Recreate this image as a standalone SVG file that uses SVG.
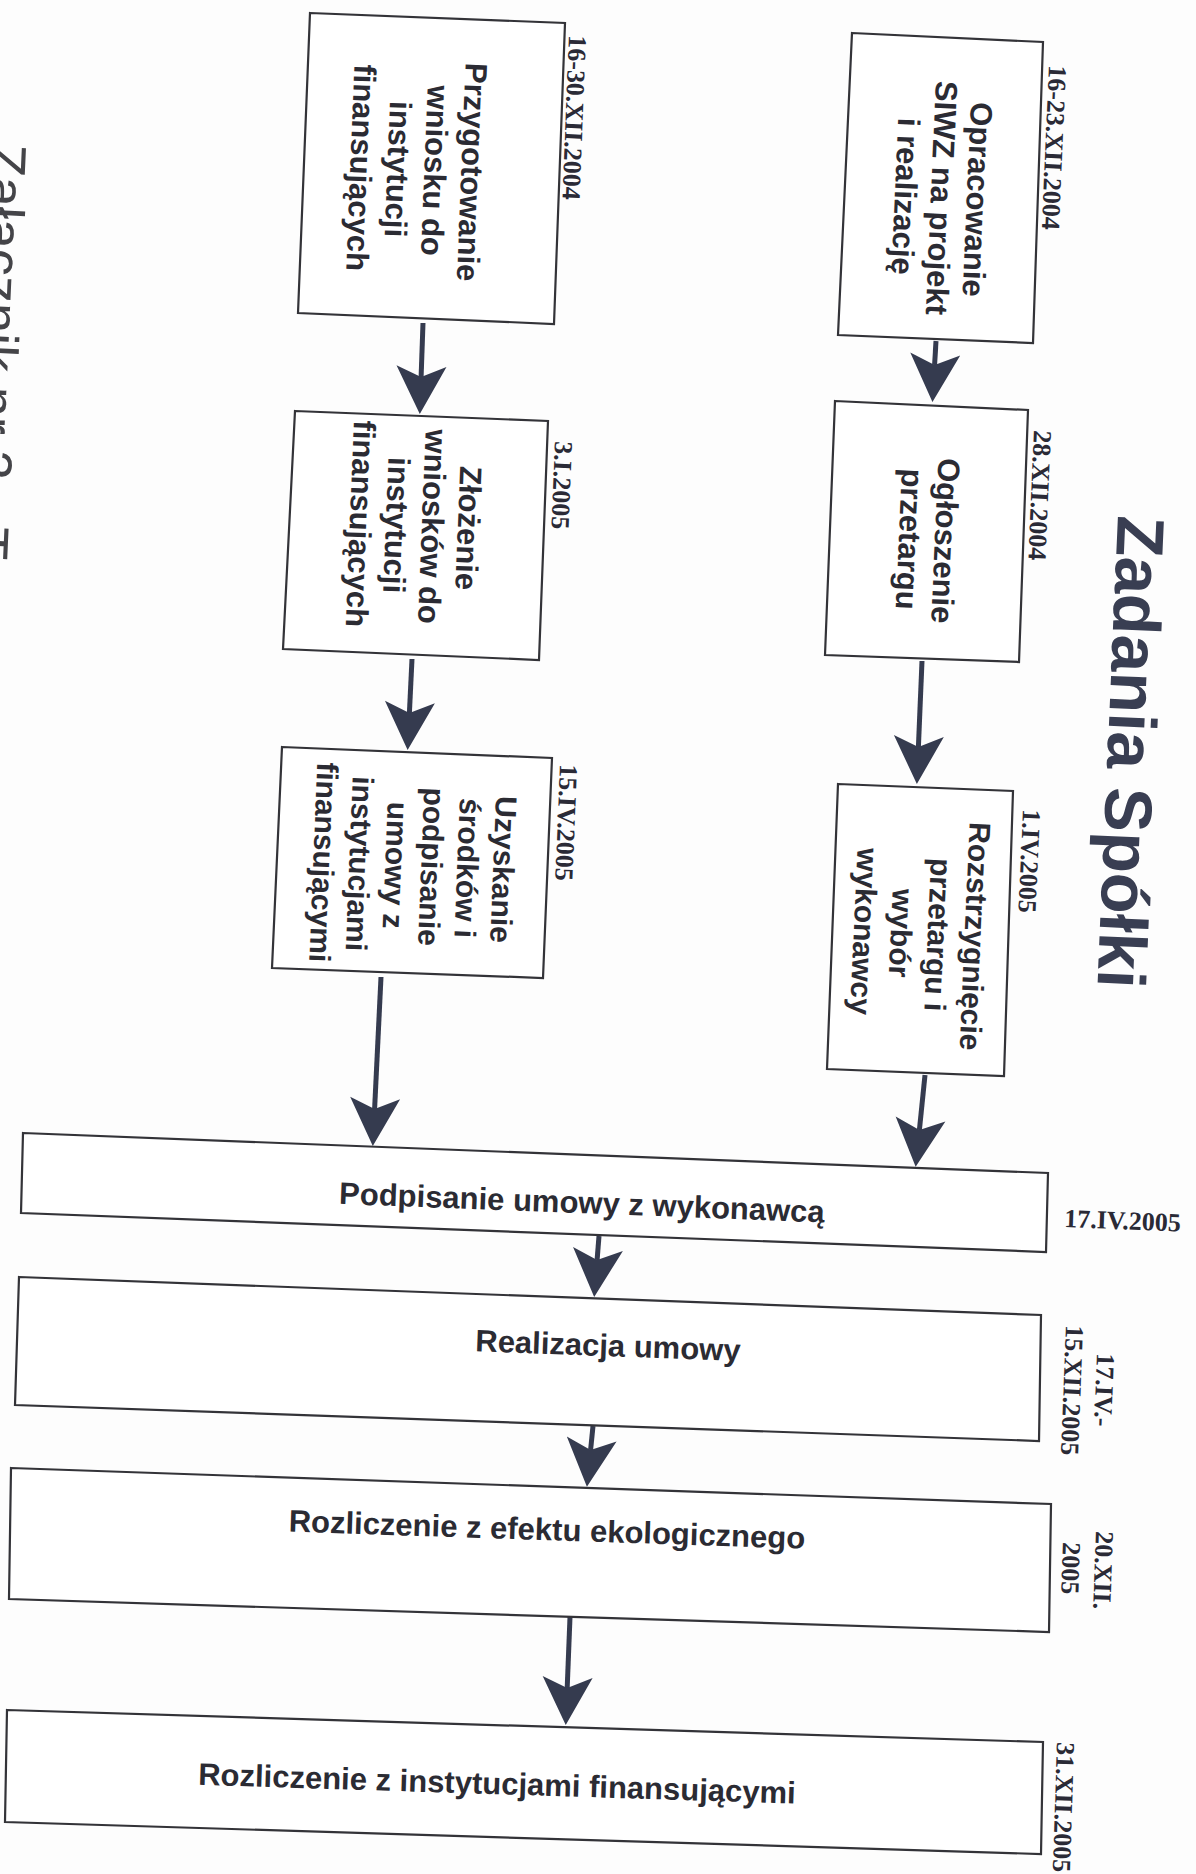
<svg xmlns="http://www.w3.org/2000/svg" width="1196" height="1874" viewBox="0 0 1196 1874">
<style>
.box{fill:#ffffff;stroke:#333338;stroke-width:2.2}
.bt{font-family:"Liberation Sans",Arial,sans-serif;font-weight:bold;font-size:31px;fill:#2b2b33}
.dt{font-family:"Liberation Serif","Times New Roman",serif;font-weight:bold;font-size:26px;fill:#2a2a36}
.title{font-family:"Liberation Sans",Arial,sans-serif;font-weight:bold;font-size:67px;fill:#393e52}
.att{font-family:"Liberation Sans",Arial,sans-serif;font-size:54px;fill:#444448}
.conn line{stroke:#353b4f;stroke-width:5;fill:none}
</style>
<defs>
<marker id="ah" viewBox="-49 -26 50 52" refX="-37" refY="0" markerWidth="50" markerHeight="52" markerUnits="userSpaceOnUse" orient="auto">
<path d="M0,0 L-48,-25 L-37,0 L-48,25 Z" fill="#353b4f"/>
</marker>
</defs>
<rect x="0" y="0" width="1196" height="1874" fill="#fdfdfd"/>

<g id="attachment-label">
<text class="att" transform="translate(-11,143) rotate(92.6)">Załącznik nr 2 - T</text>
</g>

<g id="title">
<text class="title" transform="translate(1118,515) rotate(92.5)">Zadania Spółki</text>
</g>

<g id="connectors" class="conn">
<line x1="936" y1="341" x2="934.6" y2="365" marker-end="url(#ah)"/>
<line x1="922" y1="661" x2="918.4" y2="747" marker-end="url(#ah)"/>
<line x1="925" y1="1075" x2="919.4" y2="1130" marker-end="url(#ah)"/>
<line x1="423" y1="323" x2="421.1" y2="377" marker-end="url(#ah)"/>
<line x1="412" y1="659" x2="409.4" y2="713" marker-end="url(#ah)"/>
<line x1="381" y1="977" x2="374.6" y2="1109" marker-end="url(#ah)"/>
<line x1="599" y1="1236" x2="597.1" y2="1260" marker-end="url(#ah)"/>
<line x1="593" y1="1426" x2="590.6" y2="1450" marker-end="url(#ah)"/>
<line x1="570" y1="1617" x2="567.2" y2="1688" marker-end="url(#ah)"/>
</g>

<g id="node-opracowanie">
<polygon class="box" points="852,33 1043,42 1033,343 838,335"/>
<text class="bt" text-anchor="middle" transform="translate(942,198) rotate(92.5)"><tspan x="0" y="-24.8">Opracowanie</tspan><tspan x="0" dy="36">SIWZ na projekt</tspan><tspan x="0" dy="36">i realizację</tspan></text>
<text class="dt" transform="translate(1049,65) rotate(92.5)">16-23.XII.2004</text>
</g>

<g id="node-ogloszenie">
<polygon class="box" points="835,401 1028,410 1019,662 825,655"/>
<text class="bt" text-anchor="middle" transform="translate(928,540) rotate(92.5)"><tspan x="0" y="-6.8">Ogłoszenie</tspan><tspan x="0" dy="36">przetargu</tspan></text>
<text class="dt" transform="translate(1034,430) rotate(92.5)">28.XII.2004</text>
</g>

<g id="node-rozstrzygniecie">
<polygon class="box" points="838,784 1013,791 1004,1076 827,1069"/>
<text class="bt" style="font-size:30px" text-anchor="middle" transform="translate(920,934) rotate(92.5)"><tspan x="0" y="-44.7">Rozstrzygnięcie</tspan><tspan x="0" dy="37">przetargu i</tspan><tspan x="0" dy="37">wybór</tspan><tspan x="0" dy="37">wykonawcy</tspan></text>
<text class="dt" transform="translate(1023,809) rotate(92.5)">1.IV.2005</text>
</g>

<g id="node-przygotowanie">
<polygon class="box" points="310,13 565,23 554,324 298,313"/>
<text class="bt" text-anchor="middle" transform="translate(417,170) rotate(92.3)"><tspan x="0" y="-44.3">Przygotowanie</tspan><tspan x="0" dy="37">wniosku do</tspan><tspan x="0" dy="37">instytucji</tspan><tspan x="0" dy="37">finansujących</tspan></text>
<text class="dt" transform="translate(569,35) rotate(92.3)">16-30.XII.2004</text>
</g>

<g id="node-zlozenie">
<polygon class="box" points="295,411 548,421 539,660 283,649"/>
<text class="bt" text-anchor="middle" transform="translate(415,526) rotate(92.3)"><tspan x="0" y="-42.8">Złożenie</tspan><tspan x="0" dy="36">wniosków do</tspan><tspan x="0" dy="36">instytucji</tspan><tspan x="0" dy="36">finansujących</tspan></text>
<text class="dt" transform="translate(555,441) rotate(92.3)">3.I.2005</text>
</g>

<g id="node-uzyskanie">
<polygon class="box" points="282,747 552,758 543,978 272,968"/>
<text class="bt" style="font-size:30px" text-anchor="middle" transform="translate(414,866) rotate(92.3)"><tspan x="0" y="-79.2">Uzyskanie</tspan><tspan x="0" dy="36">środków i</tspan><tspan x="0" dy="36">podpisanie</tspan><tspan x="0" dy="36">umowy z</tspan><tspan x="0" dy="36">instytucjami</tspan><tspan x="0" dy="36">finansującymi</tspan></text>
<text class="dt" transform="translate(560,764) rotate(92.3)">15.IV.2005</text>
</g>

<g id="node-podpisanie">
<polygon class="box" points="23,1133 1048,1173 1046,1252 21,1213"/>
<text class="bt" text-anchor="middle" transform="translate(582,1202) rotate(2.2)" dy="0.36em">Podpisanie umowy z wykonawcą</text>
<text class="dt" transform="translate(1064,1227) rotate(2.2)">17.IV.2005</text>
</g>

<g id="node-realizacja">
<polygon class="box" points="19,1277 1041,1315 1039,1441 15,1405"/>
<text class="bt" text-anchor="middle" transform="translate(608,1345) rotate(2.1)" dy="0.36em">Realizacja umowy</text>
<text class="dt" transform="translate(1097,1353) rotate(92.2)">17.IV.-</text>
<text class="dt" transform="translate(1066,1325) rotate(92.2)">15.XII.2005</text>
</g>

<g id="node-rozliczenie-efekt">
<polygon class="box" points="11,1468 1051,1504 1049,1632 9,1599"/>
<text class="bt" text-anchor="middle" transform="translate(547,1529) rotate(1.9)" dy="0.36em">Rozliczenie z efektu ekologicznego</text>
<text class="dt" transform="translate(1096,1531) rotate(92)">20.XII.</text>
<text class="dt" transform="translate(1063,1542) rotate(92)">2005</text>
</g>

<g id="node-rozliczenie-instytucje">
<polygon class="box" points="7,1710 1043,1742 1041,1854 5,1822"/>
<text class="bt" text-anchor="middle" transform="translate(497,1783) rotate(1.8)" dy="0.36em">Rozliczenie z instytucjami finansującymi</text>
<text class="dt" transform="translate(1057,1742) rotate(91.8)">31.XII.2005</text>
</g>
</svg>
